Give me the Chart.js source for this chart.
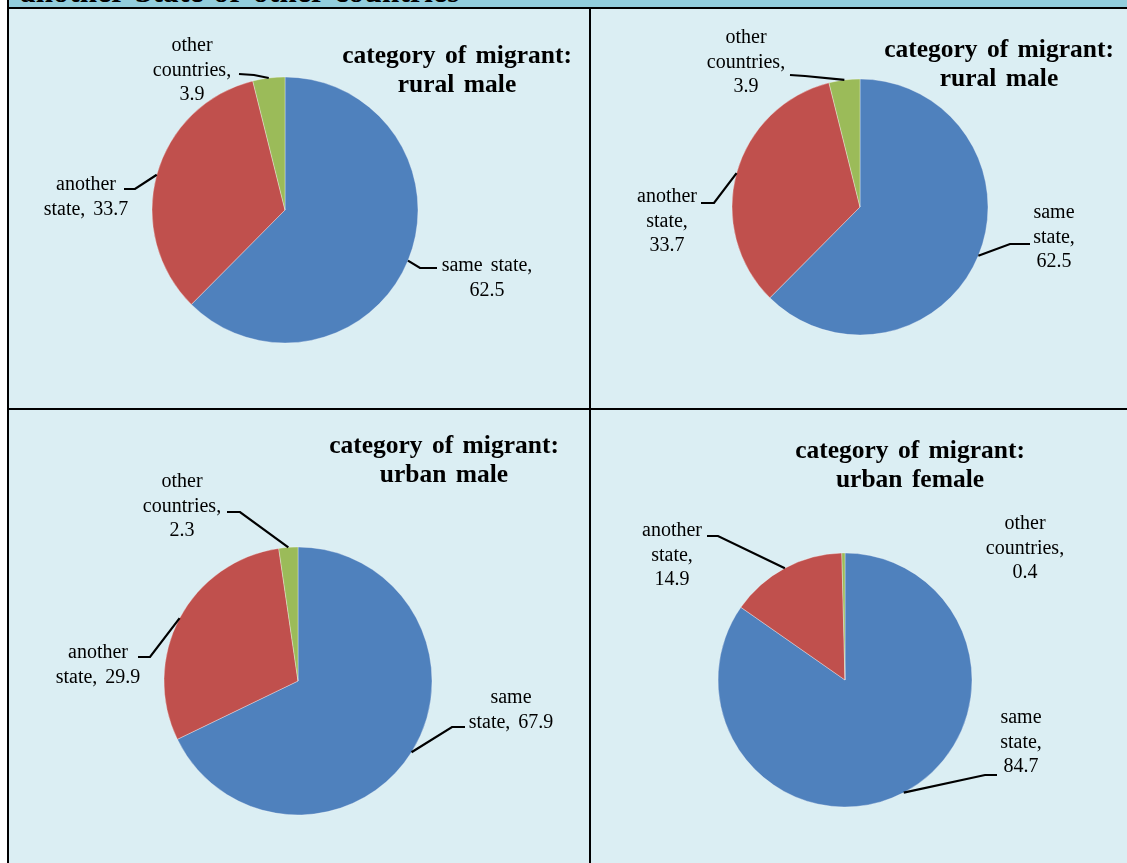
<!DOCTYPE html>
<html>
<head>
<meta charset="utf-8">
<script src="https://cdn.jsdelivr.net/npm/chart.js@4/dist/chart.umd.min.js"></script>
<style>
  html, body { margin: 0; padding: 0; background: #ffffff; }
  #page { position: relative; width: 1127px; height: 863px; overflow: hidden; background: #ffffff; }
  #strip { position: absolute; left: 9px; top: 0; width: 1118px; height: 7px; background: #92CDDC; overflow: hidden; }
  #strip span { position: absolute; left: 11px; top: -26px; font: bold 31px "Liberation Serif", "Times New Roman", serif; color: #000; white-space: nowrap; letter-spacing: 0.3px; word-spacing: 2px; }
  .rule { position: absolute; background: #000; }
  .panel { position: absolute; background: #DBEEF3; }
  .panel canvas { position: absolute; left: 0; top: 0; }
  .title { position: absolute; width: 320px; text-align: center; font: bold 25.5px "Liberation Serif", "Times New Roman", serif; color: #000; line-height: 29px; word-spacing: 3px; white-space: nowrap; }
</style>
</head>
<body>
<div id="page">
  <div id="strip"><span>another State or other countries</span></div>
</div>
<script>
// Share of migrants by place of last residence, in per cent
const categories = ['same state', 'another state', 'other countries'];
const ruralMale = [62.5, 33.7, 3.9];
const urbanMale = [67.9, 29.9, 2.3];
const urbanFemale = [84.7, 14.9, 0.4];
const sliceColors = ['#4F81BD', '#C0504D', '#9BBB59'];

const titleLine1 = 'category of migrant:';
const panelTitles = ['rural male', 'rural male', 'urban male', 'urban female'];
const panelValues = [ruralMale, ruralMale, urbanMale, urbanFemale];

// panel boxes, pie placement and label layout (page pixels)
const panels = [
  { left: 9, top: 9, w: 580, h: 399, cx: 285, cy: 210, r: 133,
    title: { x: 457, y: 40 },
    labels: [
      { x: 487, y: 266, breaks: [2, 1], elbow: [420, 268], end: [437, 268] },
      { x: 86, y: 185, breaks: [1, 2], elbow: [135, 189], end: [124, 189] },
      { x: 192, y: 46, breaks: [1, 1, 1], elbow: [254, 75], end: [239, 74] }
    ] },
  { left: 591, top: 9, w: 536, h: 399, cx: 860, cy: 207, r: 128,
    title: { x: 999, y: 34 },
    labels: [
      { x: 1054, y: 213, breaks: [1, 1, 1], elbow: [1010, 244], end: [1030, 244] },
      { x: 667, y: 197, breaks: [1, 1, 1], elbow: [714, 203], end: [701, 203] },
      { x: 746, y: 38, breaks: [1, 1, 1], elbow: [805, 76], end: [790, 75] }
    ] },
  { left: 9, top: 410, w: 580, h: 453, cx: 298, cy: 681, r: 134,
    title: { x: 444, y: 430 },
    labels: [
      { x: 511, y: 698, breaks: [1, 2], elbow: [452, 727], end: [465, 727] },
      { x: 98, y: 653, breaks: [1, 2], elbow: [150, 657], end: [138, 657] },
      { x: 182, y: 482, breaks: [1, 1, 1], elbow: [240, 512], end: [227, 512] }
    ] },
  { left: 591, top: 410, w: 536, h: 453, cx: 845, cy: 680, r: 127,
    title: { x: 910, y: 435 },
    labels: [
      { x: 1021, y: 718, breaks: [1, 1, 1], elbow: [985, 775], end: [997, 775] },
      { x: 672, y: 531, breaks: [1, 1, 1], elbow: [718, 536], end: [707, 536] },
      { x: 1025, y: 524, breaks: [1, 1, 1] }
    ] }
];

const page = document.getElementById('page');

// frame rules
[
  { l: 7, t: 0, w: 2, h: 863 },
  { l: 7, t: 7, w: 1120, h: 2 },
  { l: 589, t: 9, w: 2, h: 854 },
  { l: 9, t: 408, w: 1118, h: 2 }
].forEach(s => {
  const d = document.createElement('div');
  d.className = 'rule';
  Object.assign(d.style, { left: s.l + 'px', top: s.t + 'px', width: s.w + 'px', height: s.h + 'px' });
  page.appendChild(d);
});

// slice labels with leader lines, anchored on each arc's outer midpoint
const sliceLabels = {
  id: 'sliceLabels',
  afterDatasetsDraw(chart, args, opts) {
    const ctx = chart.ctx;
    const meta = chart.getDatasetMeta(0);
    const data = chart.data.datasets[0].data;
    const ox = opts.left, oy = opts.top;
    ctx.save();
    ctx.fillStyle = '#000';
    ctx.strokeStyle = '#000';
    ctx.lineWidth = 2.2;
    ctx.font = '20px "Liberation Serif", "Times New Roman", serif';
    if ('wordSpacing' in ctx) ctx.wordSpacing = '3px';
    ctx.textAlign = 'center';
    ctx.textBaseline = 'middle';
    meta.data.forEach((arc, i) => {
      const lay = opts.layout[i];
      const words = (chart.data.labels[i] + ', ' + data[i].toFixed(1)).split(' ');
      let k = 0;
      lay.breaks.forEach((n, li) => {
        const line = words.slice(k, k + n).join(' ');
        k += n;
        ctx.fillText(line, lay.x - ox, lay.y - oy + li * 24.5);
      });
      if (lay.elbow) {
        const p = arc.getProps(['x', 'y', 'startAngle', 'endAngle', 'outerRadius'], true);
        const mid = (p.startAngle + p.endAngle) / 2;
        const ax = p.x + Math.cos(mid) * p.outerRadius;
        const ay = p.y + Math.sin(mid) * p.outerRadius;
        ctx.beginPath();
        ctx.moveTo(lay.end[0] - ox, lay.end[1] - oy);
        ctx.lineTo(lay.elbow[0] - ox, lay.elbow[1] - oy);
        ctx.lineTo(ax, ay);
        ctx.stroke();
      }
    });
    ctx.restore();
  }
};

panels.forEach((pn, idx) => {
  const box = document.createElement('div');
  box.className = 'panel';
  Object.assign(box.style, { left: pn.left + 'px', top: pn.top + 'px', width: pn.w + 'px', height: pn.h + 'px' });
  page.appendChild(box);

  const canvas = document.createElement('canvas');
  canvas.width = pn.w;
  canvas.height = pn.h;
  canvas.style.width = pn.w + 'px';
  canvas.style.height = pn.h + 'px';
  box.appendChild(canvas);

  const t = document.createElement('div');
  t.className = 'title';
  t.style.left = (pn.title.x - pn.left - 160) + 'px';
  t.style.top = (pn.title.y - pn.top) + 'px';
  t.innerHTML = titleLine1 + '<br>' + panelTitles[idx];
  box.appendChild(t);

  const lx = pn.cx - pn.left, ly = pn.cy - pn.top;
  const hw = Math.min(lx, pn.w - lx), hh = Math.min(ly, pn.h - ly);

  new Chart(canvas, {
    type: 'pie',
    data: {
      labels: categories,
      datasets: [{
        data: panelValues[idx],
        backgroundColor: sliceColors,
        borderColor: 'rgba(255,255,255,0.55)',
        borderWidth: 0.6,
        hoverOffset: 0
      }]
    },
    options: {
      responsive: false,
      animation: false,
      devicePixelRatio: 1,
      events: [],
      radius: pn.r,
      layout: { padding: { left: lx - hw, right: pn.w - lx - hw, top: ly - hh, bottom: pn.h - ly - hh } },
      plugins: {
        legend: { display: false },
        tooltip: { enabled: false },
        title: { display: false },
        sliceLabels: { left: pn.left, top: pn.top, layout: pn.labels }
      }
    },
    plugins: [sliceLabels]
  });
});
</script>
</body>
</html>
